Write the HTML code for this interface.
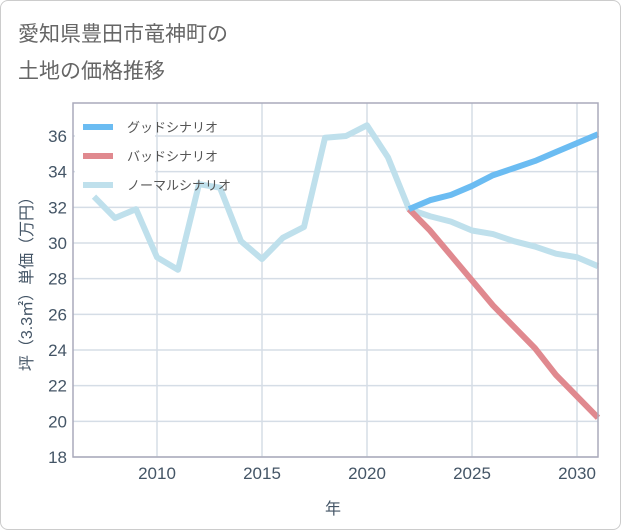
<!DOCTYPE html>
<html><head><meta charset="utf-8"><style>
body{margin:0;background:#fff;font-family:"Liberation Sans","Noto Sans CJK JP",sans-serif;}
#wrap{position:relative;width:619px;height:528px;border:1px solid #ccc;border-radius:8px;overflow:hidden;}
</style></head><body>
<div id="wrap">
<svg id="chart" width="619" height="528">
<text x="17" y="40" font-size="21" fill="#666">愛知県豊田市竜神町の</text>
<text x="17" y="77" font-size="21" fill="#666">土地の価格推移</text>
<g id="grid"></g>
<g id="legendbg"></g>
<g id="series"></g>
<g id="axes"></g>
<text x="332" y="513" font-size="16" fill="#456" text-anchor="middle">年</text>
<text transform="translate(31,279) rotate(-90)" font-size="16" fill="#456" text-anchor="middle">坪（3.3㎡）単価（万円）</text>
<g id="legend"></g>
</svg>
</div>
<script>
const years=[2007,2008,2009,2010,2011,2012,2013,2014,2015,2016,2017,2018,2019,2020,2021,2022,2023,2024,2025,2026,2027,2028,2029,2030,2031];
const normalValues=[32.6,31.4,31.9,29.2,28.5,33.3,33.1,30.1,29.1,30.3,30.9,35.9,36.0,36.6,34.8,31.9,31.5,31.2,30.7,30.5,30.1,29.8,29.4,29.2,28.7];
const futureYears=[2022,2023,2024,2025,2026,2027,2028,2029,2030,2031];
const goodValues=[31.9,32.4,32.7,33.2,33.8,34.2,34.6,35.1,35.6,36.1];
const badValues=[31.9,30.7,29.3,27.9,26.5,25.3,24.1,22.6,21.4,20.2];
const yTicks=[18,20,22,24,26,28,30,32,34,36];
const xTicks=[2010,2015,2020,2025,2030];
const NS="http://www.w3.org/2000/svg";
const L=72,R=597,T=102,B=456;
const xs=v=>L+(v-2006)*(R-L)/25;
const ys=v=>B-(v-18)*(B-135)/18;
function mk(tag,attrs,parent){const e=document.createElementNS(NS,tag);for(const k in attrs)e.setAttribute(k,attrs[k]);parent.appendChild(e);return e;}
const grid=document.getElementById('grid'),axes=document.getElementById('axes'),series=document.getElementById('series'),legend=document.getElementById('legend'),legendbg=document.getElementById('legendbg');
yTicks.forEach(t=>{
 const l=mk('line',{x1:L,x2:R,y1:ys(t),y2:ys(t),stroke:'#d5dde6','stroke-width':1.5},grid);
 
 
 const tx=mk('text',{x:L-6,y:ys(t)+6,'font-size':17,fill:'#456','text-anchor':'end'},axes);
 tx.textContent=t;
 
 
});
xTicks.forEach(t=>{
 const l=mk('line',{x1:xs(t),x2:xs(t),y1:T,y2:B,stroke:'#d5dde6','stroke-width':1.5},grid);
 
 
 const tx=mk('text',{x:xs(t),y:B+22,'font-size':17,fill:'#456','text-anchor':'middle'},axes);
 tx.textContent=t;
 
 
});
const frame=mk('rect',{x:L,y:T,width:R-L,height:B-T,fill:'none',stroke:'#aab','stroke-width':1.5},axes);


const bg=mk('rect',{x:74,y:108,width:80,height:90,fill:'#fff'},legendbg);


function line(xv,yv,color,name){
 const p=mk('polyline',{points:xv.map((x,i)=>xs(x)+','+ys(yv[i])).join(' '),fill:'none',stroke:color,'stroke-width':6,'stroke-linejoin':'round'},series);
 
 
}
line(years,normalValues,'#bfe0ec','normal-scenario-line');
line(futureYears,badValues,'#e0898f','bad-scenario-line');
line(futureYears,goodValues,'#6bbcf2','good-scenario-line');
[['グッドシナリオ','#6bbcf2',126],['バッドシナリオ','#e0898f',155],['ノーマルシナリオ','#bfe0ec',184]].forEach(([n,c,y])=>{
 const s=mk('line',{x1:82,x2:112,y1:y,y2:y,stroke:c,'stroke-width':6},legend);
 
 
 const t=mk('text',{x:126,y:y+5,'font-size':13,fill:'#555'},legend);
 t.textContent=n;
 
 
});
</script>
</body></html>
